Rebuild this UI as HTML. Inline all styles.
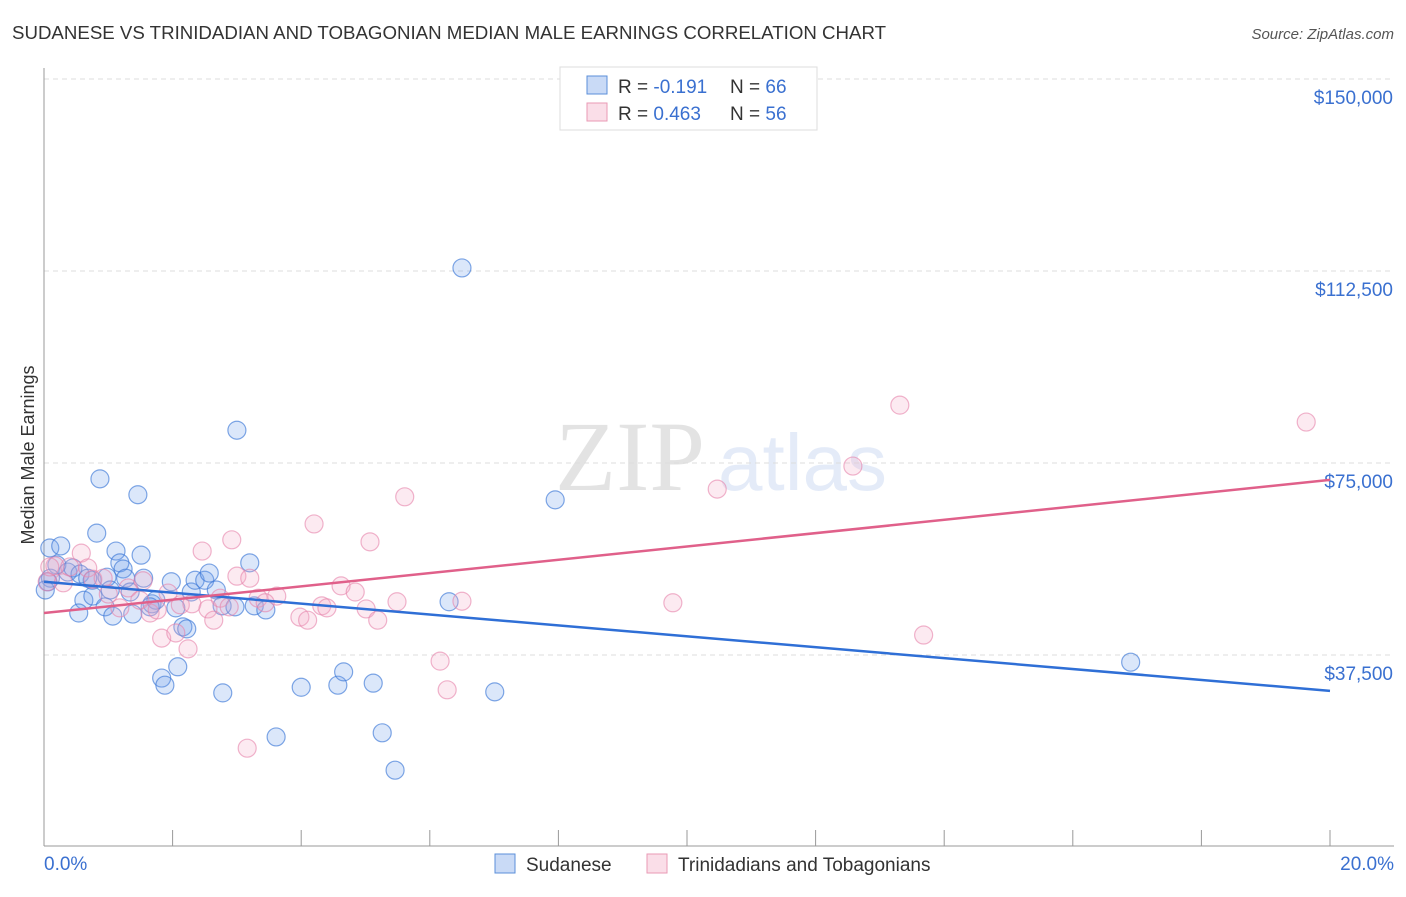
<!DOCTYPE html>
<html><head><meta charset="utf-8"><style>
body{margin:0;background:#fff;font-family:"Liberation Sans",sans-serif}
</style></head><body>
<svg width="1406" height="892" xmlns="http://www.w3.org/2000/svg" font-family="Liberation Sans, sans-serif">
<text x="12" y="39" font-size="18" fill="#333" textLength="874" lengthAdjust="spacingAndGlyphs">SUDANESE VS TRINIDADIAN AND TOBAGONIAN MEDIAN MALE EARNINGS CORRELATION CHART</text>
<text x="1394" y="39" font-size="15" fill="#555" text-anchor="end" font-style="italic">Source: ZipAtlas.com</text>
<g opacity="0.13">
<text x="555" y="490" font-size="100" font-family="Liberation Serif, serif" fill="#333">ZIP</text>
<text x="718" y="490" font-size="80" fill="#3a6fd0">atlas</text>
</g>
<g id="grid"></g>
<g id="axes"></g>
<g id="marks"></g>
<text transform="translate(34,455) rotate(-90)" font-size="18" fill="#333" text-anchor="middle">Median Male Earnings</text>
<g>
<rect x="560" y="67" width="257" height="63" fill="#fff" stroke="#ddd"/>
<rect x="587" y="76" width="20" height="18" fill="rgba(100,150,230,0.35)" stroke="#5b8fd9"/>
<rect x="587" y="103" width="20" height="18" fill="rgba(240,160,190,0.35)" stroke="#e99ab5"/>
<text x="618" y="93" font-size="19" fill="#333">R = <tspan fill="#3a70d0">-0.191</tspan></text>
<text x="730" y="93" font-size="19" fill="#333">N = <tspan fill="#3a70d0">66</tspan></text>
<text x="618" y="120" font-size="19" fill="#333">R = <tspan fill="#3a70d0">0.463</tspan></text>
<text x="730" y="120" font-size="19" fill="#333">N = <tspan fill="#3a70d0">56</tspan></text>
</g>
<g>
<rect x="495" y="854" width="20" height="19" fill="rgba(100,150,230,0.35)" stroke="#5b8fd9"/>
<text x="526" y="871" font-size="19" fill="#333">Sudanese</text>
<rect x="647" y="854" width="20" height="19" fill="rgba(240,160,190,0.35)" stroke="#e99ab5"/>
<text x="678" y="871" font-size="19" fill="#333">Trinidadians and Tobagonians</text>
</g>
</svg>
<script>
const xTicks=[0,2,4,6,8,10,12,14,16,18,20];
const yTicks=[37500,75000,112500,150000];
const yTickLabels=["$37,500","$75,000","$112,500","$150,000"];
const blueX=[0.09,0.26,0.2,0.1,0.06,0.37,0.45,0.56,0.62,0.54,0.82,0.87,0.75,0.76,0.98,0.95,1.12,1.18,1.23,1.27,1.07,1.38,1.46,1.51,1.55,1.34,1.68,1.74,1.83,1.88,1.98,2.05,2.08,2.16,2.22,2.29,2.35,2.5,2.57,2.68,2.77,2.78,2.97,3.0,3.2,3.27,3.45,3.61,4.0,4.57,4.66,5.12,5.26,5.46,6.3,6.5,7.01,7.95,16.9,0.02,0.68,1.03,1.65];
const blueY=[58.4,58.8,55.1,52.5,51.8,53.7,54.5,53.3,48.2,45.7,61.3,71.9,52.1,49.0,52.7,46.9,57.8,55.5,54.3,52.5,45.1,45.5,68.8,57.0,52.5,49.8,47.5,48.2,33.0,31.6,51.8,46.7,35.2,43.0,42.6,49.8,52.1,52.1,53.5,50.2,47.1,30.1,46.9,81.4,55.5,47.1,46.3,21.5,31.2,31.6,34.2,32.0,22.3,15.0,47.9,113.1,30.3,67.8,36.1,50.2,52.5,50.2,46.9];
const pinkX=[0.05,0.17,0.3,0.4,0.58,0.68,0.76,0.92,1.18,1.31,1.49,1.54,1.65,1.76,1.83,1.93,2.05,2.12,2.24,2.3,2.46,2.55,2.64,2.74,2.88,2.92,3.0,3.16,3.2,3.33,3.62,3.98,4.1,4.2,4.32,4.4,4.62,4.84,5.01,5.07,5.19,5.49,5.61,6.16,6.27,6.5,9.78,10.47,12.58,13.31,13.68,19.63,0.09,1.0,3.44];
const pinkY=[51.8,54.9,51.6,54.7,57.4,54.5,52.3,52.5,46.7,50.6,48.2,52.0,45.7,46.3,40.8,49.6,41.8,47.3,38.7,47.5,57.8,46.5,44.3,48.6,46.9,60.0,52.9,19.3,52.5,48.6,49.0,44.9,44.3,63.1,47.1,46.7,51.0,49.8,46.5,59.6,44.3,47.9,68.4,36.3,30.7,48.0,47.7,69.9,74.4,86.3,41.4,83.0,54.7,49.4,47.7];
const blueTrend=[51.8,30.5];
const pinkTrend=[45.7,71.7];
const X=v=>44+v*64.3, Y=k=>847-k*5.12, YD=d=>Y(d/1000);
const NS="http://www.w3.org/2000/svg";
function mk(p,t,a){const e=document.createElementNS(NS,t);for(const k in a)e.setAttribute(k,a[k]);document.getElementById(p).appendChild(e);return e;}
yTicks.forEach((t,i)=>{
 const g=mk('grid','line',{x1:44,x2:1394,y1:YD(t),y2:YD(t),stroke:'#ddd','stroke-dasharray':'5,4'});
 
 
 const l=mk('axes','text',{x:1393,y:YD(t)+25,'font-size':19,fill:'#3a70d0','text-anchor':'end'});
 l.textContent=yTickLabels[i];
 
 
});
const g0=mk('grid','line',{x1:44,x2:1394,y1:79,y2:79,stroke:'#ddd','stroke-dasharray':'5,4'});


const ya=mk('axes','line',{x1:44,x2:44,y1:68,y2:846,stroke:'#999'});


const xa=mk('axes','line',{x1:44,x2:1394,y1:846,y2:846,stroke:'#999'});


xTicks.forEach(t=>{
 const e=mk('axes','line',{x1:X(t),x2:X(t),y1:830,y2:846,stroke:'#999'});
 
 
});
[[0,'0.0%','start',44],[20,'20.0%','end',1394]].forEach(a=>{
 const e=mk('axes','text',{x:a[3],y:870,'font-size':19,fill:'#3a70d0','text-anchor':a[2]});
 e.textContent=a[1];
 
 
});
blueX.forEach((x,i)=>{
 const c=mk('marks','circle',{cx:X(x),cy:Y(blueY[i]),r:9,fill:'rgba(110,160,235,0.25)',stroke:'rgba(60,120,215,0.65)','stroke-width':1.2});
 
 
});
pinkX.forEach((x,i)=>{
 const c=mk('marks','circle',{cx:X(x),cy:Y(pinkY[i]),r:9,fill:'rgba(245,170,200,0.25)',stroke:'rgba(230,130,170,0.6)','stroke-width':1.2});
 
 
});
const bt=mk('marks','line',{x1:X(0),y1:Y(blueTrend[0]),x2:X(20),y2:Y(blueTrend[1]),stroke:'#2f6fd6','stroke-width':2.5});


const pt=mk('marks','line',{x1:X(0),y1:Y(pinkTrend[0]),x2:X(20),y2:Y(pinkTrend[1]),stroke:'#e0608a','stroke-width':2.5});


</script>
</body></html>
